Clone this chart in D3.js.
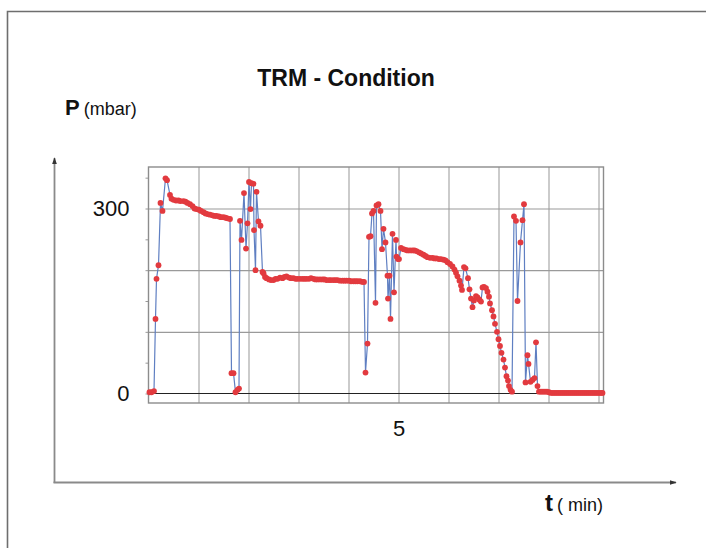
<!DOCTYPE html>
<html><head><meta charset="utf-8">
<script src="https://cdn.jsdelivr.net/npm/d3@7/dist/d3.min.js"></script>
<style>
html,body{margin:0;padding:0;background:#fff;}
svg{display:block;font-family:"Liberation Sans",Arial,sans-serif;}
</style></head>
<body>
<svg id="c" width="706" height="548"></svg>
<script>
// ---- data ----
const titleText = "TRM - Condition";
const yTickLabels = [0, 300];
const xTickLabels = [5];
const yGrid = [100, 200, 300];
const xGrid = [1, 2, 3, 4, 5, 6, 7, 8, 9];
const yMinor = [0, 50, 100, 150, 200, 250, 300, 350];

const times = [
  0.02,0.06,0.11,0.14,0.16,0.20,0.24,0.28,0.34,0.37,
  0.43,0.46,0.50,0.55,0.60,0.64,0.70,0.74,0.78,0.83,0.88,0.92,0.96,1.01,1.05,1.10,1.14,1.18,1.23,1.28,1.32,1.36,1.41,1.45,1.50,1.54,1.58,1.63,
  1.66,1.70,1.74,1.78,1.81,
  1.83,1.86,1.91,1.95,1.98,2.01,2.04,2.06,2.10,2.11,2.14,2.16,2.20,2.24,2.28,2.30,2.33,
  2.36,2.41,2.45,2.50,2.54,2.58,2.63,2.68,2.72,2.76,2.81,2.85,2.90,2.94,2.98,3.03,3.08,3.12,3.16,3.21,3.25,3.30,3.34,3.38,3.43,3.48,3.52,3.56,3.61,3.65,3.70,3.74,3.78,3.83,3.88,3.92,3.96,4.01,4.05,4.10,4.14,4.18,4.23,4.28,4.31,
  4.34,4.38,4.41,4.44,4.47,4.50,4.54,4.56,4.60,4.64,4.67,4.70,4.74,4.78,4.79,4.82,4.84,4.88,4.91,4.95,4.96,4.99,5.01,5.05,
  5.10,5.14,5.18,5.23,5.28,5.32,5.36,5.41,5.45,5.50,5.54,5.58,5.63,5.68,5.72,5.76,5.81,5.85,5.90,5.94,5.98,6.03,6.08,6.12,6.15,6.18,6.22,6.25,6.27,
  6.31,6.34,6.39,6.42,6.45,6.48,6.51,6.55,6.58,6.62,6.65,6.68,6.71,6.75,6.78,6.81,6.83,6.87,6.90,6.93,6.97,7.00,7.03,7.06,7.10,7.13,7.16,7.19,7.21,7.24,7.27,
  7.31,7.35,7.38,7.44,7.48,7.51,7.54,7.58,7.60,7.64,7.68,7.72,7.75,7.78,7.81,
  7.85,7.89,7.93,7.97,8.01,8.05,8.09,8.13,8.17,8.21,8.25,8.29,8.33,8.37,8.41,8.45,8.49,8.53,8.57,8.61,8.65,8.69,8.73,8.77,8.81,8.85,8.89,8.93,8.97,9.01,9.05,9.08
];
const pressure = [
  2,2,4,121,186,208,309,296,349,346,
  322,316,314,313,313,312,312,311,309,307,304,300,299,298,296,294,292,291,290,289,288,288,287,286,286,285,284,283,
  33,33,2,6,8,
  280,249,325,235,276,343,299,341,340,265,200,327,279,272,197,195,189,
  187,185,184,184,186,186,188,187,189,190,188,187,187,186,186,186,186,186,186,186,187,186,185,185,185,185,185,184,184,184,184,184,184,183,183,183,183,183,182,182,182,182,182,181,181,
  34,81,254,255,292,296,147,305,307,296,234,267,245,191,154,191,121,259,164,249,222,218,218,236,
  234,233,232,232,232,232,231,229,227,225,223,221,220,220,219,219,218,218,217,216,213,210,206,201,196,190,183,175,168,
  205,203,187,169,154,140,151,158,156,152,149,172,173,171,165,157,146,135,125,113,100,88,77,66,55,42,28,21,12,6,3,
  287,280,150,245,281,307,18,62,48,19,22,25,83,12,3,
  3,3,3,3,2,1,1,1,1,1,1,1,1,1,1,1,1,1,1,1,1,1,1,1,1,1,1,1,1,1,1,1
];

const data = times.map((t, i) => ({t, p: pressure[i]}));

// ---- layout ----
const svg = d3.select("#c");
const L = 148.5, R = 603.5, T = 167, B = 403;
const x = d3.scaleLinear().domain([0, 9.1]).range([L, R]);
const y = d3.scaleLinear().domain([-15.4, 367.3]).range([B, T]);

// outer frame (cropped box)
svg.append("path").attr("d", "M7.5,548 V11.5 H706")
  .attr("fill", "none").attr("stroke", "#6e6e6e").attr("stroke-width", 1.6);

// arrow markers
const defs = svg.append("defs");
defs.append("marker").attr("id", "arr").attr("viewBox", "0 0 10 10")
  .attr("refX", 9).attr("refY", 5).attr("markerWidth", 7).attr("markerHeight", 7)
  .attr("orient", "auto-start-reverse").attr("markerUnits", "userSpaceOnUse")
  .append("path").attr("d", "M0,1.5 L10,5 L0,8.5 Z").attr("fill", "#333");

// outer axes
svg.append("line").attr("x1", 54.5).attr("y1", 483).attr("x2", 54.5).attr("y2", 158)
  .attr("stroke", "#8a8a8a").attr("stroke-width", 1.8).attr("marker-end", "url(#arr)");
svg.append("line").attr("x1", 53.5).attr("y1", 482.5).attr("x2", 676).attr("y2", 482.5)
  .attr("stroke", "#8a8a8a").attr("stroke-width", 1.8).attr("marker-end", "url(#arr)");

// grid
const gx = svg.append("g").attr("transform", `translate(0,${B})`)
  .call(d3.axisBottom(x).tickValues(xGrid).tickSize(-(B - T)).tickFormat(""));
gx.select(".domain").remove();
gx.selectAll("line").attr("stroke", "#a8a8a8").attr("stroke-width", 1.2);

const gy = svg.append("g").attr("transform", `translate(${L},0)`)
  .call(d3.axisLeft(y).tickValues(yGrid).tickSize(-(R - L)).tickFormat(""));
gy.select(".domain").remove();
gy.selectAll("line").attr("stroke", "#9a9a9a").attr("stroke-width", 1.2);

// minor ticks on left
const gm = svg.append("g").attr("transform", `translate(${L},0)`)
  .call(d3.axisLeft(y).tickValues(yMinor).tickSize(3).tickFormat(""));
gm.select(".domain").remove();
gm.selectAll("line").attr("stroke", "#999").attr("stroke-width", 1);

// zero line
svg.append("line").attr("x1", L).attr("x2", R).attr("y1", y(0)).attr("y2", y(0))
  .attr("stroke", "#222").attr("stroke-width", 1.2);

// plot border
svg.append("rect").attr("x", L).attr("y", T).attr("width", R - L).attr("height", B - T)
  .attr("fill", "none").attr("stroke", "#8c8c8c").attr("stroke-width", 1.4);

// tick labels
const ly = svg.append("g").attr("transform", `translate(${L},0)`)
  .call(d3.axisLeft(y).tickValues(yTickLabels).tickSize(0).tickPadding(19).tickFormat(d3.format("d")));
ly.select(".domain").remove();
ly.selectAll("text").attr("font-size", 22).attr("fill", "#111")
  .attr("font-family", "Liberation Sans, Arial, sans-serif");

const lx = svg.append("g").attr("transform", `translate(0,${B})`)
  .call(d3.axisBottom(x).tickValues(xTickLabels).tickSize(0).tickPadding(17).tickFormat(d3.format("d")));
lx.select(".domain").remove();
lx.selectAll("text").attr("font-size", 22).attr("fill", "#111")
  .attr("font-family", "Liberation Sans, Arial, sans-serif");

// series line
const line = d3.line().x(d => x(d.t)).y(d => y(d.p));
svg.append("path").datum(data).attr("d", line)
  .attr("fill", "none").attr("stroke", "#5f7fc2").attr("stroke-width", 1.2);

// series points
svg.append("g").selectAll("circle").data(data).join("circle")
  .attr("cx", d => x(d.t)).attr("cy", d => y(d.p)).attr("r", 2.9)
  .attr("fill", "#e23a3f");

// title and axis names
svg.append("text").attr("x", 346).attr("y", 86).attr("text-anchor", "middle")
  .attr("font-size", 23).attr("font-weight", "bold").attr("fill", "#111").text(titleText);

const pl = svg.append("text").attr("x", 65).attr("y", 115).attr("fill", "#111");
pl.append("tspan").attr("font-size", 22).attr("font-weight", "bold").text("P");
pl.append("tspan").attr("font-size", 18).attr("dx", 4).text("(mbar)");

const tl = svg.append("text").attr("x", 545).attr("y", 511).attr("fill", "#111");
tl.append("tspan").attr("font-size", 24).attr("font-weight", "bold").text("t");
tl.append("tspan").attr("font-size", 18).attr("dx", 4).text("( min)");
</script>
</body></html>
